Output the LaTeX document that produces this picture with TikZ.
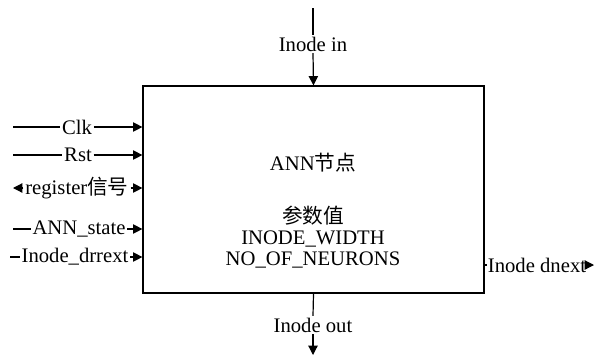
\documentclass[tikz,border=0pt]{standalone}
\usepackage{fontspec}
\setmainfont{Liberation Serif}
\newfontfamily\cjk{Noto Sans CJK SC}
\usetikzlibrary{arrows.meta,fit}

\tikzset{
	sig/.style={inner sep=1pt},
	tip/.style={-{Triangle[length=7pt,width=7pt]}},
}

\begin{document}
\begin{tikzpicture}[x=0.75pt,y=-0.75pt,line width=0.9pt,font=\fontsize{15.5}{15.5}\selectfont]
	\useasboundingbox (0,0) rectangle (595,358);
	% the node block
	\coordinate (tl) at (143,86);
	\coordinate (br) at (484,293);
	\node[draw,fit=(tl)(br),inner sep=0pt] (ann) {};
	\node (title) at (313,163) {ANN{\cjk 节点}};
	\node[align=center] (param) at (313,237) {{\cjk 参数值}\\INODE\_WIDTH\\NO\_OF\_NEURONS};

	% inputs on the left
	\begin{scope}[every node/.style=sig]
		\node (clk) at (77,127) {Clk};
		\node (rst) at (78,155) {Rst};
		\node (reg) at (77,188) {register{\cjk 信号}};
		\node (st) at (79,229) {ANN\_state};
		\node (drr) at (75,257) {Inode\_drrext};
		\coordinate (clk0) at (13,127);
		\coordinate (rst0) at (13,155);
		\coordinate (reg0) at (13,188);
		\coordinate (st0) at (13,229);
		\coordinate (drr0) at (10,257);
		\draw (clk0) -- (clk.west);
		\draw[tip] (clk.east) -- (clk -| ann.west);
		\draw (rst0) -- (rst.west);
		\draw[tip] (rst.east) -- (rst -| ann.west);
		\draw[tip] (reg.west) -- (reg0);
		\draw[tip] (reg.east) -- (reg -| ann.west);
		\draw (st0) -- (st.west);
		\draw[tip] (st.east) -- (st -| ann.west);
		\draw (drr0) -- (drr.west);
		\draw[tip] (drr.east) -- (drr -| ann.west);

		% top, bottom and right
		\node (in) at (313,44) {Inode in};
		\coordinate (in0) at (313,8);
		\draw (in0) -- (in.north);
		\draw[tip] (in.south) -- (ann.north);
		\node (out) at (313,325) {Inode out};
		\coordinate (out1) at (313,355);
		\draw (ann.south) -- (out.north);
		\draw[tip] (out.south) -- (out1);
		\node[inner sep=0.5pt] (dn) at (537,265) {Inode dnext};
		\coordinate (dn1) at (594,265);
		\draw (dn -| ann.east) -- (dn.west);
		\draw[tip] (dn.east) -- (dn1);
	\end{scope}
\end{tikzpicture}
\end{document}
